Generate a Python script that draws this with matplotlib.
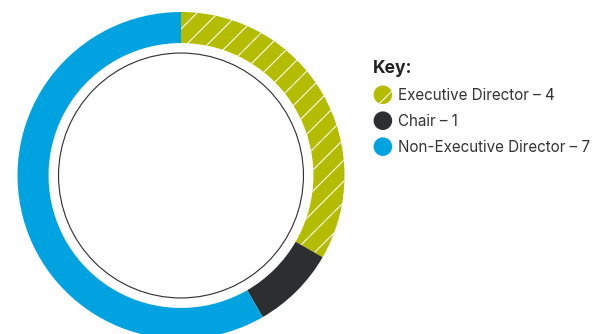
import matplotlib
matplotlib.use('Agg')
import matplotlib.pyplot as plt
import matplotlib.patches as mpatches
from matplotlib.legend_handler import HandlerPatch

# ── Data ────────────────────────────────────────────────────────────────────
roles = ['Executive Director', 'Chair', 'Non-Executive Director']
counts = [4, 1, 7]
colors = ['#B4BC00', '#2D2E30', '#00A3E0']
hatches = ['//', None, None]
legend_title = 'Key:'

DPI = 126
PT = 72 / DPI          # one pixel in points

plt.rcParams['font.family'] = ['Inter', 'DejaVu Sans']
plt.rcParams['hatch.color'] = 'white'
plt.rcParams['hatch.linewidth'] = 1.1 * PT

W, H = 592, 334
fig = plt.figure(figsize=(W / DPI, H / DPI), dpi=DPI)

# donut axes: centre (181, 175.5) px, outer radius 163.5 px
cx, cy, R = 181, 175.5, 163.5
ax = fig.add_axes([(cx - R) / W, (H - cy - R) / H, 2 * R / W, 2 * R / H])

wedges, _ = ax.pie(counts, colors=colors, startangle=90, counterclock=False,
                   radius=1.0, wedgeprops=dict(width=0.19, linewidth=0, edgecolor='white'))
for w, h in zip(wedges, hatches):
    if h:
        w.set_hatch(h)

# thin inner ring
ax.add_patch(mpatches.Circle((0, 0), 0.749, fill=False, edgecolor='#333333', lw=1.15 * PT))
ax.set_xlim(-1, 1)
ax.set_ylim(-1, 1)
ax.set_aspect('equal')
ax.axis('off')


class HandlerCircle(HandlerPatch):
    def create_artists(self, legend, orig_handle, xdescent, ydescent,
                       width, height, fontsize, trans):
        r = 9.3 * PT
        c = mpatches.Circle((width / 2 - xdescent, height / 2 - ydescent), r,
                            facecolor=orig_handle.get_facecolor(), edgecolor='white',
                            lw=0, hatch=orig_handle.get_hatch(), transform=trans)
        return [c]


labels = [f'{r} \u2013 {c}' for r, c in zip(roles, counts)]
leg = fig.legend(wedges, labels, handler_map={mpatches.Wedge: HandlerCircle()},
                 loc='upper left', bbox_to_anchor=(373 / W, 1 - 60 / H),
                 frameon=False, fontsize=15.2 * PT, title=legend_title,
                 title_fontproperties=dict(family='Inter', weight='bold', size=17.5 * PT),
                 alignment='left', handlelength=1.3, handleheight=1.0,
                 handletextpad=0.35, labelspacing=0.72, borderaxespad=0,
                 borderpad=0)
for t in leg.get_texts():
    t.set_color('#333333')
leg.get_title().set_color('#222222')

fig.savefig('out.png', dpi=DPI, facecolor='white')
